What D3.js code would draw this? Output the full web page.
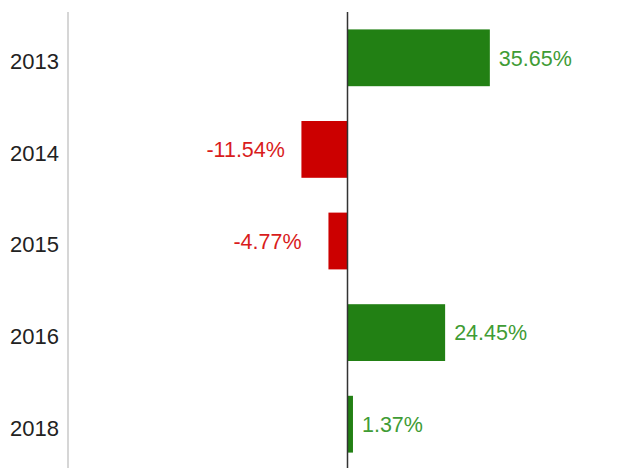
<!DOCTYPE html>
<html>
<head>
<meta charset="utf-8">
<script src="https://cdn.jsdelivr.net/npm/d3@7"></script>
<style>
  body { margin: 0; background: #fff; }
  text { font-family: "Liberation Sans", Arial, Helvetica, sans-serif; }
</style>
</head>
<body>
<script>
var years = ["2013", "2014", "2015", "2016", "2018"];
var changes = [35.65, -11.54, -4.77, 24.45, 1.37];
var labels = ["35.65%", "-11.54%", "-4.77%", "24.45%", "1.37%"];

var width = 623, height = 468;
var marginTop = 12, marginLeft = 68;

var rows = years.map(function(y, i) {
    return { year: y, value: changes[i], label: labels[i] };
});

var svg = d3.select("body")
    .append("svg")
    .attr("width", width)
    .attr("height", height);

var x = d3.scaleLinear()
    .domain([-70, 70])
    .range([marginLeft, 627]);

var y = d3.scaleBand()
    .domain(years)
    .range([marginTop, 470])
    .paddingInner(0.38)
    .paddingOuter(0.19);

// bars
svg.selectAll(".bar")
    .data(rows)
    .enter()
    .append("rect")
    .attr("class", "bar")
    .attr("x", function(d) { return x(Math.min(0, d.value)); })
    .attr("y", function(d) { return y(d.year); })
    .attr("width", function(d) { return Math.abs(x(d.value) - x(0)); })
    .attr("height", y.bandwidth())
    .style("fill", function(d) { return d.value < 0 ? "#cc0000" : "#228014"; });

// value labels
svg.selectAll(".val")
    .data(rows)
    .enter()
    .append("text")
    .attr("class", "val")
    .attr("x", function(d) {
        return d.value < 0 ? x(d.value) - 95 : x(d.value) + 9;
    })
    .attr("y", function(d) { return y(d.year) + y.bandwidth() / 2; })
    .attr("dy", "0.36em")
    .style("font-size", "21.5px")
    .style("fill", function(d) { return d.value < 0 ? "#d91c1c" : "#3f9c35"; })
    .text(function(d) { return d.label; });

// left axis
var yAxis = svg.append("g")
    .attr("transform", "translate(" + marginLeft + ",0)")
    .call(d3.axisLeft(y).tickSize(0).tickPadding(9));
yAxis.select(".domain")
    .attr("d", "M0," + marginTop + "V" + height)
    .style("stroke", "#c8c8c8")
    .style("stroke-width", "1.5px");
yAxis.selectAll("text")
    .attr("dy", "0.52em")
    .style("font-size", "22px")
    .style("fill", "#222")
    .style("font-family", "'Liberation Sans', Arial, sans-serif");

// zero line
svg.append("line")
    .attr("x1", x(0))
    .attr("x2", x(0))
    .attr("y1", marginTop)
    .attr("y2", height)
    .style("stroke", "#333")
    .style("stroke-width", "1.5px");
</script>
</body>
</html>
